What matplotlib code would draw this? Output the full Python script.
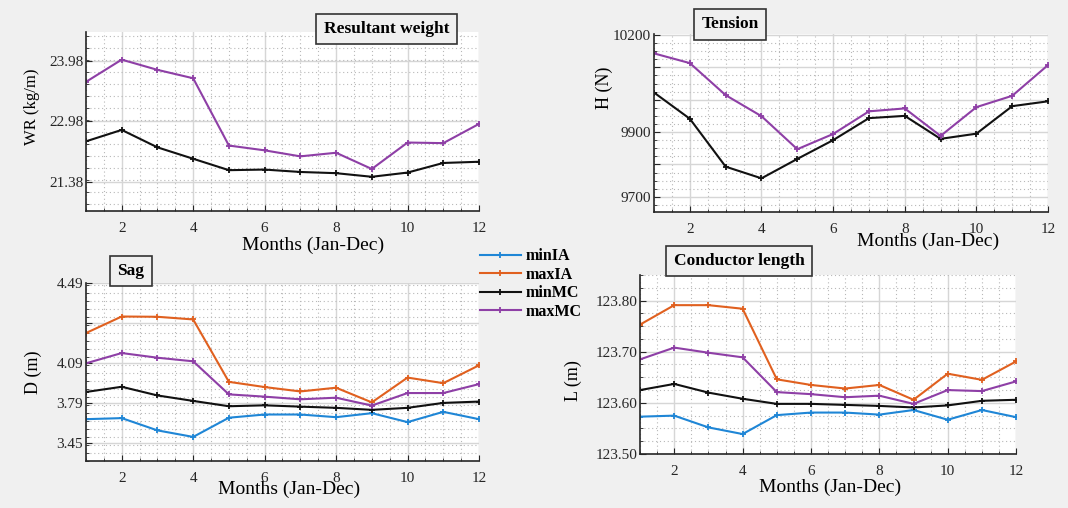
import numpy as np
import matplotlib
matplotlib.use('Agg')
from matplotlib import pyplot as plt
from matplotlib.ticker import MultipleLocator, FixedLocator, FixedFormatter

months = np.arange(1, 13)

# Resultant weight (kg/m)
wr_min_mc = [22.64, 22.83, 22.54, 22.35, 22.16, 22.17, 22.13, 22.11, 22.05, 22.12, 22.28, 22.30]
wr_max_mc = [23.63, 24.00, 23.83, 23.69, 22.57, 22.49, 22.39, 22.45, 22.18, 22.62, 22.61, 22.93]
wr_ticks = [21.97, 22.98, 23.98]
wr_tick_labels = ['21.38', '22.98', '23.98']

# Tension (N)
h_min_mc = [10022, 9941, 9793, 9757, 9817, 9875, 9943, 9950, 9879, 9895, 9980, 9995]
h_max_mc = [10143, 10113, 10014, 9949, 9847, 9894, 9964, 9973, 9888, 9977, 10012, 10107]
h_ticks = [9700, 9800, 9900, 10000, 10100, 10200]
h_tick_labels = ['9700', '', '9900', '', '', '10200']

# Sag (m)
d_min_ia = [3.671, 3.679, 3.587, 3.538, 3.682, 3.706, 3.706, 3.686, 3.716, 3.649, 3.726, 3.671]
d_max_ia = [4.317, 4.441, 4.439, 4.419, 3.951, 3.912, 3.879, 3.907, 3.797, 3.983, 3.941, 4.075]
d_min_mc = [3.875, 3.914, 3.849, 3.808, 3.768, 3.775, 3.765, 3.756, 3.741, 3.756, 3.793, 3.803]
d_max_mc = [4.090, 4.167, 4.132, 4.105, 3.857, 3.840, 3.820, 3.832, 3.773, 3.867, 3.867, 3.934]
d_ticks = [3.49, 3.79, 4.09, 4.39, 4.69]
d_tick_labels = ['3.45', '3.79', '4.09', '', '4.49']

# Conductor length (m)
l_min_ia = [123.573, 123.575, 123.552, 123.539, 123.576, 123.581, 123.581, 123.577, 123.586, 123.567, 123.586, 123.572]
l_max_ia = [123.753, 123.791, 123.791, 123.784, 123.646, 123.635, 123.628, 123.635, 123.606, 123.657, 123.645, 123.681]
l_min_mc = [123.625, 123.637, 123.620, 123.608, 123.598, 123.598, 123.596, 123.594, 123.591, 123.595, 123.604, 123.606]
l_max_mc = [123.685, 123.708, 123.698, 123.689, 123.621, 123.617, 123.611, 123.614, 123.598, 123.625, 123.623, 123.642]
l_ticks = [123.50, 123.60, 123.70, 123.80]
l_tick_labels = ['123.50', '123.60', '123.70', '123.80']

BLUE = '#1f86d6'
ORANGE = '#e0601f'
BLACK = '#111111'
PURPLE = '#8e3fa6'
BG = '#f0f0f0'

plt.rcParams['font.family'] = ['Liberation Serif', 'DejaVu Serif']

fig = plt.figure(figsize=(10.68, 5.08), dpi=100, facecolor=BG)


def style_axes(ax, ylim, ticks, labels, minor_step):
    ax.set_facecolor('white')
    ax.set_xlim(1, 12)
    ax.set_ylim(*ylim)
    ax.xaxis.set_major_locator(MultipleLocator(2))
    ax.xaxis.set_minor_locator(MultipleLocator(0.5))
    ax.yaxis.set_major_locator(FixedLocator(ticks))
    ax.yaxis.set_major_formatter(FixedFormatter(labels))
    ax.yaxis.set_minor_locator(MultipleLocator(minor_step))
    ax.grid(True, which='major', color='#d6d6d6', lw=1.0, ls='-')
    ax.grid(True, which='minor', color='#b8b8b8', lw=0.8, ls=(0, (1, 2.5)))
    ax.set_axisbelow(True)
    for s in ('top', 'right'):
        ax.spines[s].set_visible(False)
    for s in ('left', 'bottom'):
        ax.spines[s].set_color('#262626')
        ax.spines[s].set_linewidth(1.2)
    ax.tick_params(which='both', direction='in', colors='#262626', labelsize=11)
    ax.tick_params(axis='x', which='major', length=4, pad=8)
    ax.tick_params(axis='y', which='major', length=4, pad=2)
    ax.tick_params(which='minor', length=2)


def plot_series(ax, y, color, label):
    ax.plot(months, y, color=color, lw=1.5, marker='+', ms=5, mew=1.3, label=label)


def title_box(x, y, text):
    fig.text(x / 1068, 1 - y / 508, text, fontsize=12.5, fontweight='bold',
             ha='center', va='center',
             bbox=dict(boxstyle='square,pad=0.42', fc=BG, ec='#333333', lw=1.2))


def set_labels(ax, ylabel, ypos, xpos, ysize=13):
    ax.set_xlabel('Months (Jan-Dec)', fontsize=14)
    ax.xaxis.label.set_va('center')
    ax.xaxis.set_label_coords(*xpos)
    ax.set_ylabel(ylabel, fontsize=ysize)
    ax.yaxis.label.set_va('center')
    ax.yaxis.set_label_coords(*ypos)


# Resultant weight
ax1 = fig.add_axes([0.0805, 0.5846, 0.368, 0.3524])
plot_series(ax1, wr_min_mc, BLACK, 'minMC')
plot_series(ax1, wr_max_mc, PURPLE, 'maxMC')
style_axes(ax1, (21.48, 24.46), wr_ticks, wr_tick_labels, 0.2)
set_labels(ax1, 'WR (kg/m)', (-0.137, 0.581), (0.578, -0.19), ysize=12)

# Tension
ax2 = fig.add_axes([0.6124, 0.5827, 0.3689, 0.3504])
plot_series(ax2, h_min_mc, BLACK, 'minMC')
plot_series(ax2, h_max_mc, PURPLE, 'maxMC')
style_axes(ax2, (9653, 10203), h_ticks, h_tick_labels, 25)
set_labels(ax2, 'H (N)', (-0.127, 0.697), (0.695, -0.163))

# Sag
ax3 = fig.add_axes([0.0805, 0.0919, 0.368, 0.3504])
plot_series(ax3, d_min_ia, BLUE, 'minIA')
plot_series(ax3, d_max_ia, ORANGE, 'maxIA')
plot_series(ax3, d_min_mc, BLACK, 'minMC')
plot_series(ax3, d_max_mc, PURPLE, 'maxMC')
style_axes(ax3, (3.355, 4.69), d_ticks, d_tick_labels, 0.06)
set_labels(ax3, 'D (m)', (-0.135, 0.502), (0.517, -0.156))

# Conductor length
ax4 = fig.add_axes([0.5993, 0.1063, 0.3521, 0.3524])
plot_series(ax4, l_min_ia, BLUE, 'minIA')
plot_series(ax4, l_max_ia, ORANGE, 'maxIA')
plot_series(ax4, l_min_mc, BLACK, 'minMC')
plot_series(ax4, l_max_mc, PURPLE, 'maxMC')
style_axes(ax4, (123.50, 123.85), l_ticks, l_tick_labels, 0.025)
set_labels(ax4, 'L (m)', (-0.178, 0.413), (0.505, -0.184))

title_box(386.5, 29, 'Resultant weight')
title_box(730, 24.5, 'Tension')
title_box(131, 271, 'Sag')
title_box(739, 261, 'Conductor length')

handles, labels = ax3.get_legend_handles_labels()
fig.legend(handles, labels, loc='center left', bbox_to_anchor=(0.4494, 0.441),
           frameon=False, borderpad=0, borderaxespad=0, handlelength=2.56,
           handletextpad=0.3, labelspacing=0.15,
           prop={'family': 'Liberation Serif', 'weight': 'bold', 'size': 11.5})

fig.savefig('out.png', dpi=100, facecolor=BG)
